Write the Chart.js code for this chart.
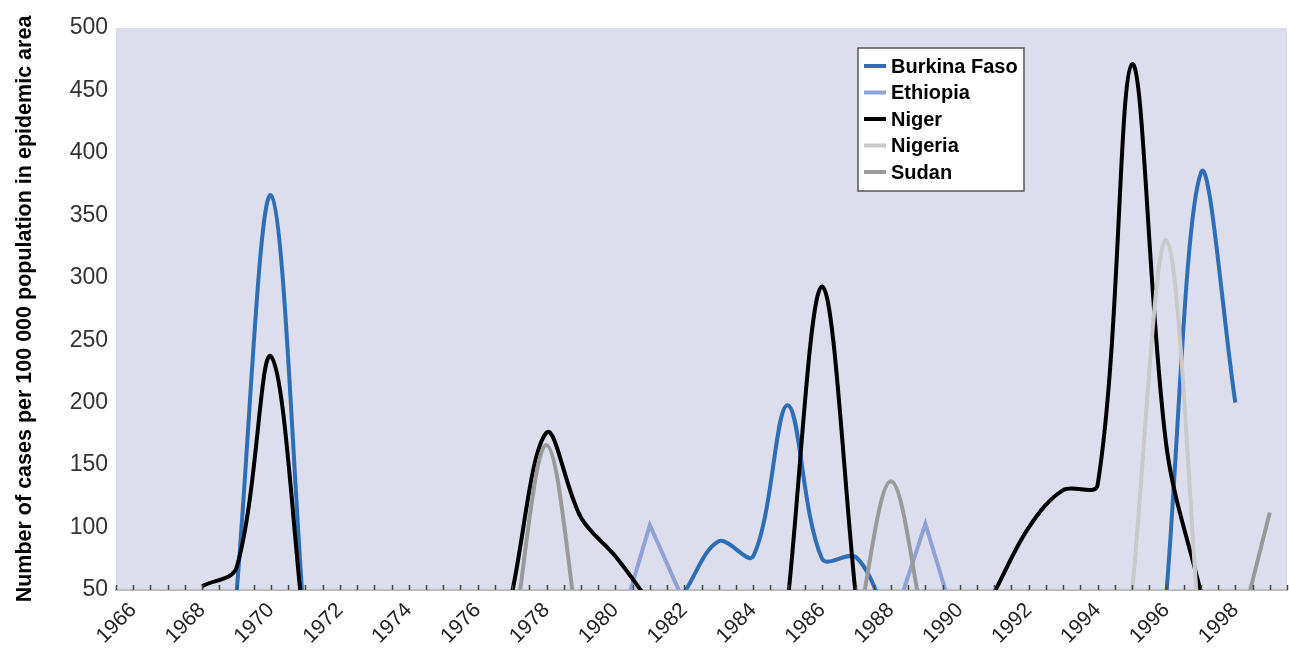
<!DOCTYPE html>
<html>
<head>
<meta charset="utf-8">
<script src="https://cdn.jsdelivr.net/npm/chart.js@4.4.1/dist/chart.umd.min.js"></script>
<style>
	body { margin: 0; background: #fff; }
	#wrap { width: 1289px; height: 654px; position: relative; }
</style>
</head>
<body>
<div id="wrap"><canvas id="meningitisChart"></canvas></div>
<script>
// yearly incidence, one value per year 1966..1999 (null = no line drawn)
var years = [1966, 1967, 1968, 1969, 1970, 1971, 1972, 1973, 1974, 1975, 1976, 1977,
	1978, 1979, 1980, 1981, 1982, 1983, 1984, 1985, 1986, 1987, 1988, 1989,
	1990, 1991, 1992, 1993, 1994, 1995, 1996, 1997, 1998, 1999];

var burkinaFaso = [null, null, null, 48, 366, 10, null, null, null, null, null, null,
	null, null, null, null, 48, 89, 77, 198, 75, 76, 20, null,
	null, null, null, null, null, null, 48, 384, 200, null];

var ethiopia = [null, null, null, null, null, null, null, null, null, null, null, null,
	null, null, 9, 102, 40, null, null, null, null, null, 19, 103,
	12, null, null, null, null, null, null, null, null, null];

var niger = [null, null, 53, 68, 237, 10, null, null, null, null, null, 48,
	176, 108, 77, 40, null, null, null, 40, 293, 40, null, null,
	null, 48, 100, 130, 134, 471, 165, 48, null, null];

var nigeria = [null, null, null, null, null, null, null, null, null, null, null, null,
	null, null, null, null, null, null, null, null, null, null, null, null,
	null, null, null, null, null, 48, 330, 0, null, null];

var sudan = [null, null, null, null, null, null, null, null, null, null, null, 5,
	166, 0, null, null, null, null, null, null, null, 15, 137, 15,
	null, null, null, null, null, null, null, null, 3, 112];

var countries = ['Burkina Faso', 'Ethiopia', 'Niger', 'Nigeria', 'Sudan'];
var yTicks = [50, 100, 150, 200, 250, 300, 350, 400, 450, 500];

var FONT = '"Liberation Sans", Arial, sans-serif';

function toPoints(vals) {
	return years.map(function(y, i) { return { x: y, y: vals[i] }; });
}

function makeSet(label, vals, color, tension, order) {
	return {
		label: label,
		data: toPoints(vals),
		borderColor: color,
		backgroundColor: color,
		borderWidth: 4,
		pointRadius: 0,
		pointHoverRadius: 0,
		tension: tension,
		capBezierPoints: false,
		spanGaps: false,
		fill: false,
		clip: 0,
		order: order
	};
}

// plot background
var plotBackground = {
	id: 'plotBackground',
	beforeDraw: function(chart) {
		var a = chart.chartArea;
		var ctx = chart.ctx;
		ctx.save();
		ctx.fillStyle = '#dcdeee';
		ctx.fillRect(a.left, a.top, a.right - a.left, a.bottom - a.top);
		ctx.restore();
	}
};

// small tick marks inside the plot, every half year
var innerTicks = {
	id: 'innerTicks',
	afterDraw: function(chart) {
		var sx = chart.scales.x;
		var a = chart.chartArea;
		var ctx = chart.ctx;
		ctx.save();
		ctx.strokeStyle = '#444';
		ctx.lineWidth = 1.5;
		sx.ticks.forEach(function(t) {
			var px = Math.round(sx.getPixelForValue(t.value)) + 0.5;
			ctx.beginPath();
			ctx.moveTo(px, a.bottom - 5);
			ctx.lineTo(px, a.bottom);
			ctx.stroke();
		});
		ctx.restore();
	}
};

// boxed legend inside the plot
var legendBox = {
	id: 'legendBox',
	afterDraw: function(chart) {
		var ctx = chart.ctx;
		var x = 858, y = 48, w = 166, h = 143;
		ctx.save();
		ctx.fillStyle = '#fff';
		ctx.fillRect(x, y, w, h);
		ctx.strokeStyle = '#555';
		ctx.lineWidth = 1.5;
		ctx.strokeRect(x, y, w, h);
		ctx.font = 'bold 20px ' + FONT;
		ctx.textBaseline = 'middle';
		chart.data.datasets.forEach(function(ds, i) {
			var cy = y + 18 + i * 26.5;
			ctx.strokeStyle = ds.borderColor;
			ctx.lineWidth = 4;
			ctx.beginPath();
			ctx.moveTo(x + 6, cy);
			ctx.lineTo(x + 28, cy);
			ctx.stroke();
			ctx.fillStyle = '#000';
			ctx.fillText(ds.label, x + 33, cy + 1);
		});
		ctx.restore();
	}
};

var ctx = document.getElementById('meningitisChart').getContext('2d');
var chart = new Chart(ctx, {
	type: 'line',
	data: {
		datasets: [
			makeSet(countries[0], burkinaFaso, '#2f6db5', 0.35, 5),
			makeSet(countries[1], ethiopia, '#8fa2d6', 0, 4),
			makeSet(countries[2], niger, '#000000', 0.35, 3),
			makeSet(countries[3], nigeria, '#c9c9c9', 0.35, 2),
			makeSet(countries[4], sudan, '#9a9a9a', 0.35, 1)
		]
	},
	options: {
		responsive: true,
		maintainAspectRatio: false,
		animation: false,
		layout: { padding: { left: 0, right: 2, top: 28, bottom: 0 } },
		plugins: {
			legend: { display: false },
			tooltip: { enabled: false }
		},
		scales: {
			x: {
				type: 'linear',
				min: 1965.5,
				max: 1999.5,
				afterBuildTicks: function(s) {
					var t = [];
					for (var v = 1965.5; v <= 1999.5; v += 0.5) { t.push({ value: v }); }
					s.ticks = t;
				},
				afterFit: function(s) {
					s.height = 64;
					s.paddingLeft = 0;
					s.paddingRight = 0;
				},
				grid: { display: false, drawTicks: false },
				border: { display: true, color: '#bdbdbd', width: 2 },
				ticks: {
					autoSkip: false,
					maxRotation: 45,
					minRotation: 45,
					padding: 8,
					color: '#222',
					font: { family: FONT, size: 21 },
					callback: function(v) {
						return (v % 2 === 0) ? String(v) : '';
					}
				}
			},
			y: {
				min: 50,
				max: 500,
				afterBuildTicks: function(s) {
					s.ticks = yTicks.map(function(v) { return { value: v }; });
				},
				afterFit: function(s) { s.width = 116; },
				grid: { display: false, drawTicks: false },
				border: { display: false },
				ticks: {
					padding: 8,
					color: '#333',
					font: { family: FONT, size: 23 }
				},
				title: {
					display: true,
					text: 'Number of cases per 100 000 population in epidemic area',
					color: '#000',
					font: { family: FONT, size: 21.5, weight: 'bold' },
					padding: { top: 12, bottom: 0 }
				}
			}
		}
	},
	plugins: [plotBackground, innerTicks, legendBox]
});
</script>
</body>
</html>
